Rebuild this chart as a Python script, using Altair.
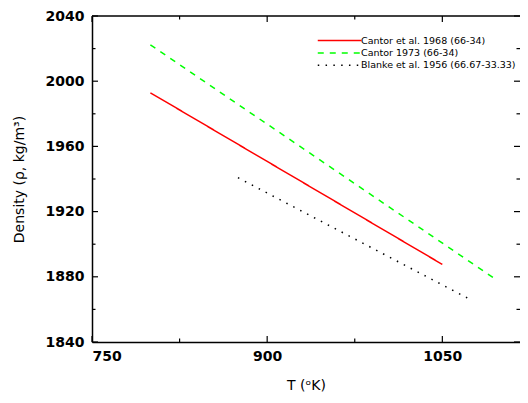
import altair as alt
import pandas as pd

series = ["Cantor et al. 1968 (66-34)", "Cantor 1973 (66-34)", "Blanke et al. 1956 (66.67-33.33)"]
colors = ["#ff0000", "#00ff00", "#000000"]
dashes = [[1, 0], [6, 6], [1.5, 6.3]]

red_T = [800, 1050]
red_rho = [1992.9, 1887.6]
green_T = [800, 1096]
green_rho = [2022.3, 1878.3]
black_T = [875, 1073]
black_rho = [1940.8, 1866.4]

x_major = [750, 900, 1050]
x_minor = [825, 975]
y_major = [1840, 1880, 1920, 1960, 2000, 2040]
y_minor = [1860, 1900, 1940, 1980, 2020]

W, H = 428, 326
FONT = "DejaVu Sans"

rows = []
for name, ts, rs in zip(series, [red_T, green_T, black_T], [red_rho, green_rho, black_rho]):
    for t, r in zip(ts, rs):
        rows.append({"series": name, "T": t, "rho": r})
df = pd.DataFrame(rows)

xs = alt.Scale(domain=[750, 1116.5], nice=False, zero=False)
ys = alt.Scale(domain=[1840, 2040], nice=False, zero=False)

xaxis = alt.Axis(
    values=x_major, title="T (ᵒK)", format="d",
    labelFont=FONT, labelFontSize=14, labelFontWeight="bold", labelColor="black",
    labelPadding=7, ticks=False, domain=True, domainColor="black", domainWidth=1.5, grid=False,
    titleFont=FONT, titleFontSize=14, titleFontWeight="normal", titleColor="black",
    titlePadding=15)
yaxis = alt.Axis(
    values=y_major, title="Density (ρ, kg/m³)", format="d",
    labelFont=FONT, labelFontSize=14, labelFontWeight="bold", labelColor="black",
    labelPadding=8, ticks=False, domain=True, domainColor="black", domainWidth=1.5, grid=False,
    titleFont=FONT, titleFontSize=14, titleFontWeight="normal", titleColor="black",
    titlePadding=19)

leg = alt.Legend(
    title=None, orient="none", legendX=225, legendY=19, padding=0,
    symbolType="M-1,0H8.2", symbolSize=90, symbolStrokeWidth=1.5,
    labelFont=FONT, labelFontSize=9.5, labelColor="black", labelOffset=33,
    rowPadding=2.4, labelLimit=300,
)

lines = alt.Chart(df).mark_line(strokeWidth=1.5, clip=True).encode(
    x=alt.X("T:Q", scale=xs, axis=xaxis),
    y=alt.Y("rho:Q", scale=ys, axis=yaxis),
    color=alt.Color("series:N", scale=alt.Scale(domain=series, range=colors), legend=leg),
    strokeDash=alt.StrokeDash("series:N", scale=alt.Scale(domain=series, range=dashes), legend=leg),
    order="T:Q",
)


def xticks(vals, y0, y1):
    return alt.Chart(pd.DataFrame({"T": vals})).mark_rule(color="black", strokeWidth=1.2).encode(
        x=alt.X("T:Q", scale=xs, axis=xaxis), y=alt.value(y0), y2=alt.value(y1))


def yticks(vals, x0, x1):
    return alt.Chart(pd.DataFrame({"rho": vals})).mark_rule(color="black", strokeWidth=1.2).encode(
        y=alt.Y("rho:Q", scale=ys, axis=yaxis), x=alt.value(x0), x2=alt.value(x1))


top_border = alt.Chart(pd.DataFrame({"T": [x_major[0]]})).mark_rule(color="black", strokeWidth=1.5).encode(
    x=alt.value(0), x2=alt.value(W), y=alt.value(0))

MAJ, MIN = 6, 3.5
chart = alt.layer(
    lines,
    top_border,
    xticks(x_major, H, H - MAJ), xticks(x_minor, H, H - MIN),
    xticks(x_major, 0, MAJ), xticks(x_minor, 0, MIN),
    yticks(y_major, 0, MAJ), yticks(y_minor, 0, MIN),
    yticks(y_major, W, W - MAJ), yticks(y_minor, W, W - MIN),
).properties(
    width=W, height=H,
    autosize=alt.AutoSizeParams(type="none"),
    padding={"left": 84, "top": 8, "right": 0, "bottom": 55},
).configure_view(stroke=None)

chart.save("out.html", embed_options={"renderer": "svg", "actions": False})
